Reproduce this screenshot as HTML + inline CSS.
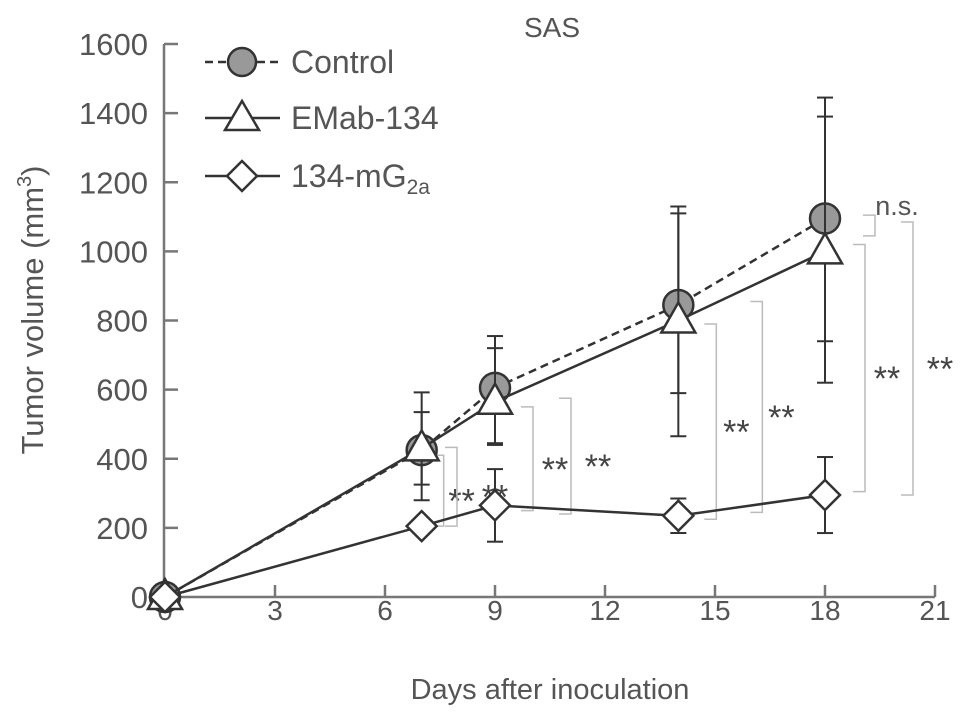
<!DOCTYPE html>
<html><head><meta charset="utf-8"><style>
body{margin:0;background:#fff}
svg{display:block;font-family:"Liberation Sans",sans-serif}
</style></head><body>
<svg id="chart" width="969" height="719">
<g id="axes"></g><g id="brackets"></g><g id="series"></g>
<text x="552" y="37" font-size="28" fill="#555" text-anchor="middle">SAS</text>
<text x="550" y="699" font-size="29" fill="#555" text-anchor="middle">Days after inoculation</text>
<text transform="translate(43,310) rotate(-90)" font-size="31" fill="#555" text-anchor="middle">Tumor volume (mm<tspan font-size="20" dy="-12">3</tspan><tspan dy="12">)</tspan></text>
<g>
<g>
<line x1="205" y1="62" x2="280" y2="62" stroke="#333" stroke-width="2.5" stroke-dasharray="8,5"/>
<circle cx="242" cy="62" r="14" fill="#999" stroke="#333" stroke-width="2.5"/>
<text x="291" y="73" font-size="32" fill="#555">Control</text></g>
<g>
<line x1="205" y1="118" x2="280" y2="118" stroke="#333" stroke-width="2.5"/>
<polygon points="242,101 259,130 225,130" fill="#fff" stroke="#333" stroke-width="2.5"/>
<text x="291" y="129" font-size="32" fill="#555">EMab-134</text></g>
<g>
<line x1="205" y1="176" x2="280" y2="176" stroke="#333" stroke-width="2.5"/>
<polygon points="242,161 257,176 242,191 227,176" fill="#fff" stroke="#333" stroke-width="2.5"/>
<text x="291" y="187" font-size="32" fill="#555">134-mG<tspan font-size="21" dy="7">2a</tspan></text></g>
</g>
</svg>
<script>
const xTicks=[0,3,6,9,12,15,18,21];
const yTicks=[0,200,400,600,800,1000,1200,1400,1600];
const days=[0,7,9,14,18];
const controlVals=[0,425,605,845,1095];
const controlUp=[0,592,755,1130,1445];
const controlLo=[0,280,445,465,740];
const emabVals=[0,430,565,800,1000];
const emabUp=[0,535,720,1110,1390];
const emabLo=[0,325,440,590,620];
const mgVals=[0,205,265,235,295];
const mgUp=[0,205,370,285,405];
const mgLo=[0,205,160,185,185];
const X=d=>165+d*(110/3);
const Y=v=>597-v*(553/1600);
const NS='http://www.w3.org/2000/svg';
function mk(parent,tag,attrs){const e=document.createElementNS(NS,tag);for(const k in attrs)e.setAttribute(k,attrs[k]);parent.appendChild(e);return e;}
const axes=document.getElementById('axes');
let a=mk(axes,'line',{x1:164,y1:Y(1600),x2:164,y2:597,stroke:'#777','stroke-width':2.5});


a=mk(axes,'line',{x1:164,y1:597,x2:X(21),y2:597,stroke:'#777','stroke-width':2.5});


yTicks.forEach(v=>{
 mk(axes,'line',{x1:164,y1:Y(v),x2:178,y2:Y(v),stroke:'#777','stroke-width':2.5});
 const t=mk(axes,'text',{x:148,y:Y(v)+11,'font-size':31,fill:'#555','text-anchor':'end'});t.textContent=v;
 
 
});
xTicks.forEach(d=>{
 if(d>0)mk(axes,'line',{x1:X(d),y1:597,x2:X(d),y2:585,stroke:'#777','stroke-width':2.5});
 const t=mk(axes,'text',{x:X(d),y:620,'font-size':28,fill:'#555','text-anchor':'middle'});t.textContent=d;
 
 
});
const br=document.getElementById('brackets');
function bracket(x,v1,v2,label,lx){
 const g=mk(br,'g',{});
 
 
 mk(g,'polyline',{points:`${x-12},${Y(v1)} ${x},${Y(v1)} ${x},${Y(v2)} ${x-12},${Y(v2)}`,fill:'none',stroke:'#bbb','stroke-width':1.5});
 const t=mk(g,'text',{x:lx,y:(Y(v1)+Y(v2))/2+22,'font-size':34,fill:'#444','text-anchor':'middle'});t.textContent=label;
}
bracket(X(7)+22,emabVals[1]-20,mgVals[1],'**',X(7)+40);
bracket(X(9)-38,emabVals[1]+3,mgVals[1],'**',X(9));
bracket(X(9)+38,emabVals[2]-15,mgVals[2]-15,'**',X(9)+60);
bracket(X(9)+76,controlVals[2]-30,mgVals[2]-25,'**',X(9)+103);
bracket(X(14)+38,emabVals[3]-10,mgVals[3]-10,'**',X(14)+58);
bracket(X(14)+84,controlVals[3]+10,mgVals[3]+10,'**',X(14)+103);
bracket(X(18)+40,emabVals[4]+20,mgVals[4]+10,'**',X(18)+62);
bracket(X(18)+88,controlVals[4]-10,mgVals[4],'**',X(18)+115);
bracket(X(18)+50,controlVals[4]+10,emabVals[4]+45,'',0);
const ns=mk(br,'text',{x:X(18)+72,y:Y(1105),'font-size':27,fill:'#555','text-anchor':'middle'});ns.textContent='n.s.';


const sg=document.getElementById('series');
function series(name,vals,up,lo,dash,marker){
 const g=mk(sg,'g',{});
 
 
 days.forEach((d,i)=>{
  if(up[i]===lo[i])return;
  const x=X(d);
  mk(g,'line',{x1:x,y1:Y(up[i]),x2:x,y2:Y(lo[i]),stroke:'#333','stroke-width':2});
  mk(g,'line',{x1:x-8,y1:Y(up[i]),x2:x+8,y2:Y(up[i]),stroke:'#333','stroke-width':2});
  mk(g,'line',{x1:x-8,y1:Y(lo[i]),x2:x+8,y2:Y(lo[i]),stroke:'#333','stroke-width':2});
 });
 const pl=mk(g,'polyline',{points:days.map((d,i)=>X(d)+','+Y(vals[i])).join(' '),fill:'none',stroke:'#333','stroke-width':2.5});
 if(dash)pl.setAttribute('stroke-dasharray','8,5');
 days.forEach((d,i)=>{
  const x=X(d),y=Y(vals[i]);let m;
  if(marker==='circle')m=mk(g,'circle',{cx:x,cy:y,r:15,fill:'#999',stroke:'#333','stroke-width':2.5});
  else if(marker==='tri')m=mk(g,'polygon',{points:`${x},${y-18} ${x+17},${y+12} ${x-17},${y+12}`,fill:'#fff',stroke:'#333','stroke-width':2.5});
  else m=mk(g,'polygon',{points:`${x},${y-15} ${x+15},${y} ${x},${y+15} ${x-15},${y}`,fill:'#fff',stroke:'#333','stroke-width':2.5});
  
  
 });
}
series('series-control',controlVals,controlUp,controlLo,true,'circle');
series('series-emab-134',emabVals,emabUp,emabLo,false,'tri');
series('series-134-mg2a',mgVals,mgUp,mgLo,false,'diamond');
</script>
</body></html>
